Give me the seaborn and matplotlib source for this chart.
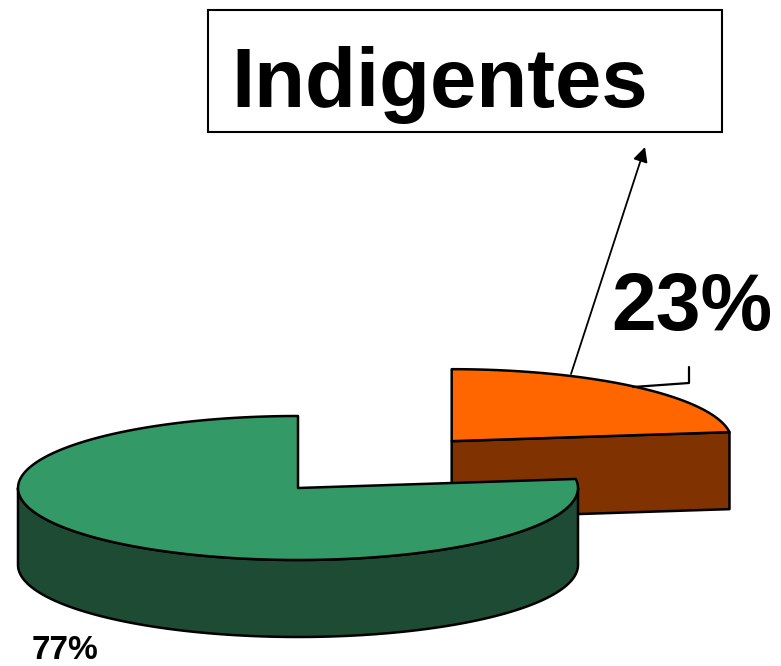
import numpy as np
import matplotlib
matplotlib.use("Agg")
import matplotlib.pyplot as plt
from matplotlib.patches import Polygon, Rectangle
import seaborn as sns

# ---- data ----
categories = ["No indigentes", "Indigentes"]
values = [77, 23]
pct_labels = ["77%", "23%"]
top_colors = ["#339966", "#FF6600"]
side_colors = ["#1D4B33", "#803300"]
explode = [0.0, 0.83]
title_label = "Indigentes"

sns.set_theme(style="white")
plt.rcParams['font.family'] = ['Liberation Sans', 'DejaVu Sans']

W, H = 781, 666
fig = plt.figure(figsize=(W / 100, H / 100), dpi=100)
ax = fig.add_axes([0, 0, 1, 1])
ax.set_xlim(0, W)
ax.set_ylim(H, 0)
ax.axis("off")

# pie geometry (pixel-like data coords, y downward)
cx, cy = 298, 488
rx, ry = 280, 72
depth = 77
lw = 1.8

total = float(sum(values))
spans = [v / total * 360.0 for v in values]
end_ind = 90.0
start_ind = end_ind - spans[1]
angles = [(end_ind, end_ind + spans[0]), (start_ind, end_ind)]


def pt(c, a, dy=0.0):
    r = np.deg2rad(a)
    return (c[0] + rx * np.cos(r), c[1] - ry * np.sin(r) + dy)


def draw_slice(i):
    s, e = angles[i]
    mid = np.deg2rad((s + e) / 2)
    c = (cx + explode[i] * rx * np.cos(mid), cy - explode[i] * ry * np.sin(mid) - 2)
    if explode[i] == 0:
        c = (cx, cy)
    # radial faces
    for a, vis in ((s, np.cos(np.deg2rad(s)) > 1e-6), (e, np.cos(np.deg2rad(e)) < -1e-6)):
        if vis:
            p = pt(c, a)
            poly = [c, p, (p[0], p[1] + depth), (c[0], c[1] + depth)]
            ax.add_patch(Polygon(poly, closed=True, facecolor=side_colors[i],
                                 edgecolor="black", lw=lw, joinstyle="round"))
    # outer arc side (front half: 180..360 mod 360)
    for k in range(-1, 2):
        lo = max(s, 180 + 360 * k)
        hi = min(e, 360 + 360 * k)
        if hi > lo:
            aa = np.linspace(lo, hi, 120)
            topp = [pt(c, a) for a in aa]
            bot = [pt(c, a, depth) for a in aa[::-1]]
            ax.add_patch(Polygon(topp + bot, closed=True, facecolor=side_colors[i],
                                 edgecolor="black", lw=lw, joinstyle="round"))
    # top face
    aa = np.linspace(s, e, 200)
    poly = [c] + [pt(c, a) for a in aa]
    ax.add_patch(Polygon(poly, closed=True, facecolor=top_colors[i],
                         edgecolor="black", lw=lw, joinstyle="round"))


draw_slice(1)
draw_slice(0)

# labels
ax.text(32, 659, pct_labels[0], fontsize=24, fontweight="bold", color="black",
        ha="left", va="baseline")
ax.text(611, 330, pct_labels[1], fontsize=58, fontweight="bold", color="black",
        ha="left", va="baseline")

# leader bracket for 23%
ax.plot([633, 689, 689], [387, 383, 367], color="black", lw=1.6)

# title box
ax.add_patch(Rectangle((208, 10), 514, 122, facecolor="white", edgecolor="black", lw=1.5))
ax.text(231, 107, title_label, fontsize=60, fontweight="bold", color="black",
        ha="left", va="baseline")

# arrow from slice to box
ax.annotate("", xy=(645, 147), xytext=(571, 374),
            arrowprops=dict(arrowstyle="-|>", color="black", lw=1.3,
                            mutation_scale=22, shrinkA=0, shrinkB=0))

fig.savefig("out.png", dpi=100)
